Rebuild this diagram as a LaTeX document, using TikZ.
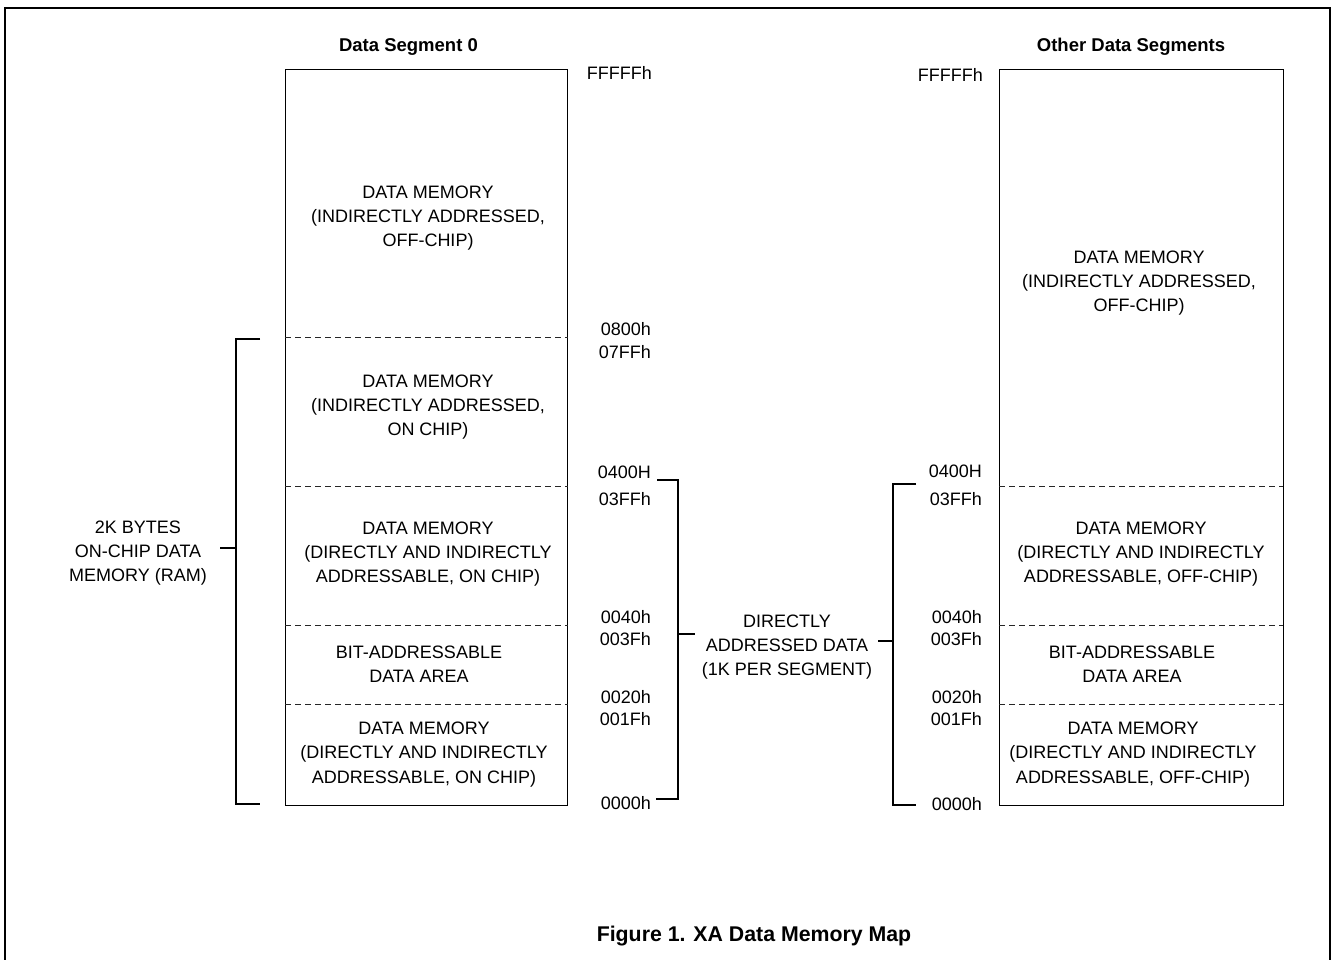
\documentclass[tikz,border=0pt]{standalone}
\usepackage{fontspec}
\setmainfont{Liberation Sans}
\begin{document}
\begin{tikzpicture}[x=1pt,y=-1pt,
  boxline/.style={line width=1pt},
  sepline/.style={line width=0.8pt, dash pattern=on 6pt off 4pt, black!85},
  brk/.style={line width=1.2pt},
  lbl/.style={font=\fontsize{18}{24.4}\selectfont, align=center, inner sep=0pt},
  addr/.style={font=\fontsize{18}{24.4}\selectfont, inner sep=0pt, text height=12.9pt, text depth=0pt, anchor=east},
  ttl/.style={font=\fontsize{18.5}{22}\selectfont\bfseries, inner sep=0pt, text height=13.3pt, text depth=0pt},
  figcap/.style={font=\fontsize{21.3}{25}\selectfont\bfseries, inner sep=0pt, text height=15.3pt, text depth=0pt}]
\useasboundingbox (0,0) rectangle (1333,959);
% outer frame (bottom edge lies outside the picture)
\draw[line width=2pt] (5,975) -- (5,7.5) -- (1330,7.5) -- (1330,975);

% titles
\node[ttl] (t0) at (408.5,45) {Data Segment 0};
\node[ttl] (t1) at (1131,45) {Other Data Segments};

% ---------------- left box (segment 0)
\coordinate (L1) at (285,69);
\coordinate (L2) at (567.5,805);
\draw[boxline] (L1) rectangle (L2);
\draw[sepline] (285,337) -- (567.5,337);
\draw[sepline] (285,486) -- (567.5,486);
\draw[sepline] (285,625) -- (567.5,625);
\draw[sepline] (285,704) -- (567.5,704);

\node[lbl] (a1) at (428,218) {DATA MEMORY\\(INDIRECTLY ADDRESSED,\\OFF-CHIP)};
\node[lbl] (a2) at (428,407) {DATA MEMORY\\(INDIRECTLY ADDRESSED,\\ON CHIP)};
\node[lbl] (a3) at (428,554) {DATA MEMORY\\(DIRECTLY AND INDIRECTLY\\ADDRESSABLE, ON CHIP)};
\node[lbl] (a4) at (419,664) {BIT-ADDRESSABLE\\DATA AREA};
\node[lbl] (a5) at (424,754.5) {DATA MEMORY\\(DIRECTLY AND INDIRECTLY\\ADDRESSABLE, ON CHIP)};

% left addresses
\node[addr] (la0) at (652,73) {FFFFFh};
\node[addr] (la1) at (651,329) {0800h};
\node[addr] (la2) at (651,352) {07FFh};
\node[addr] (la3) at (651,472) {0400H};
\node[addr] (la4) at (651,499) {03FFh};
\node[addr] (la5) at (651,617) {0040h};
\node[addr] (la6) at (651,639) {003Fh};
\node[addr] (la7) at (651,697) {0020h};
\node[addr] (la8) at (651,719.5) {001Fh};
\node[addr] (la9) at (651,803) {0000h};

% ---------------- right box (other segments)
\coordinate (R1) at (999,69);
\coordinate (R2) at (1283,805);
\draw[boxline] (R1) rectangle (R2);
\draw[sepline] (999,486) -- (1283,486);
\draw[sepline] (999,625) -- (1283,625);
\draw[sepline] (999,704) -- (1283,704);

\node[lbl] (b1) at (1139,283) {DATA MEMORY\\(INDIRECTLY ADDRESSED,\\OFF-CHIP)};
\node[lbl] (b2) at (1141,554) {DATA MEMORY\\(DIRECTLY AND INDIRECTLY\\ADDRESSABLE, OFF-CHIP)};
\node[lbl] (b3) at (1132,664) {BIT-ADDRESSABLE\\DATA AREA};
\node[lbl] (b4) at (1133,754.5) {DATA MEMORY\\(DIRECTLY AND INDIRECTLY\\ADDRESSABLE, OFF-CHIP)};

% right addresses
\node[addr] (ra0) at (983,75) {FFFFFh};
\node[addr] (ra3) at (982,471) {0400H};
\node[addr] (ra4) at (982,499) {03FFh};
\node[addr] (ra5) at (982,617) {0040h};
\node[addr] (ra6) at (982,639) {003Fh};
\node[addr] (ra7) at (982,697) {0020h};
\node[addr] (ra8) at (982,719) {001Fh};
\node[addr] (ra9) at (982,804) {0000h};

% ---------------- 2K bracket
\node[lbl] (k2) at (138,553) {2K BYTES\\ON-CHIP DATA\\MEMORY (RAM)};
\coordinate (k2t) at (260,339);
\coordinate (k2b) at (260,804);
\coordinate (k2m) at (236,548);
\draw[brk] (k2t) -- (236,339) -- (236,804) -- (k2b);
\draw[brk] (k2m) -- (220,548);

% ---------------- directly addressed data brackets
\node[lbl] (dd) at (787,647) {DIRECTLY\\ADDRESSED DATA\\(1K PER SEGMENT)};
\coordinate (d1t) at (657,480);
\coordinate (d1b) at (656,799);
\draw[brk] (d1t) -- (678,480) -- (678,799) -- (d1b);
\draw[brk] (678,634) -- (695,634);
\coordinate (d2t) at (916,484);
\coordinate (d2b) at (916,805);
\draw[brk] (d2t) -- (893,484) -- (893,805) -- (d2b);
\draw[brk] (893,641) -- (878,641);

% caption
\node[figcap] (fig) at (754,934) {Figure 1. XA Data Memory Map};
\end{tikzpicture}
\end{document}
